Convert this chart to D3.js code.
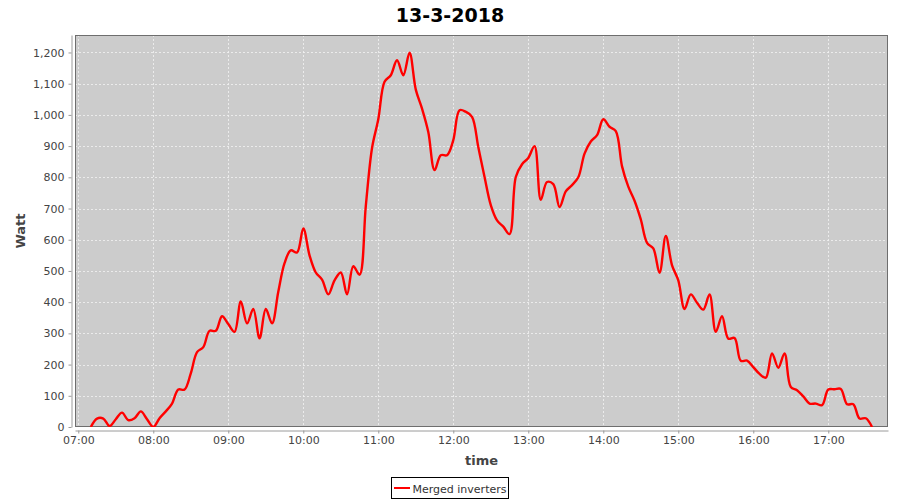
<!DOCTYPE html>
<html>
<head>
<meta charset="utf-8">
<script src="https://cdn.jsdelivr.net/npm/d3@7/dist/d3.min.js"></script>
<style>
  html, body { margin: 0; padding: 0; background: #ffffff; }
  svg { display: block; }
</style>
</head>
<body>
<svg id="chart" width="900" height="500"></svg>
<script>
// ---------------- DATA ----------------
const chartTitle = "13-3-2018";
const seriesName = "Merged inverters";
const xAxisLabel = "time";
const yAxisLabel = "Watt";

const times = [
  "07:10","07:15","07:20","07:25","07:30","07:35","07:40","07:45","07:50","07:55",
  "08:00","08:05","08:10","08:15","08:20","08:25","08:30","08:35","08:40","08:45",
  "08:50","08:55","09:00","09:05","09:10","09:15","09:20","09:25","09:30","09:35",
  "09:40","09:45","09:50","09:55","10:00","10:05","10:10","10:15","10:20","10:25",
  "10:30","10:35","10:40","10:45","10:50","10:55","11:00","11:05","11:10","11:15",
  "11:20","11:25","11:30","11:35","11:40","11:45","11:50","11:55","12:00","12:05",
  "12:10","12:15","12:20","12:25","12:30","12:35","12:40","12:45","12:50","12:55",
  "13:00","13:05","13:10","13:15","13:20","13:25","13:30","13:35","13:40","13:45",
  "13:50","13:55","14:00","14:05","14:10","14:15","14:20","14:25","14:30","14:35",
  "14:40","14:45","14:50","14:55","15:00","15:05","15:10","15:15","15:20","15:25",
  "15:30","15:35","15:40","15:45","15:50","15:55","16:00","16:05","16:10","16:15",
  "16:20","16:25","16:30","16:35","16:40","16:45","16:50","16:55","17:00","17:05",
  "17:10","17:15","17:20","17:25","17:30","17:35"
];

const watts = [
  0, 27, 27, 3, 25, 46, 22, 28, 50, 25,
  0, 28, 50, 75, 120, 120, 172, 240, 256, 308,
  308, 355, 330, 305, 402, 332, 378, 284, 378, 332,
  433, 525, 566, 559, 636, 550, 495, 472, 425, 470,
  495, 425, 515, 488, 708, 894, 986, 1106, 1127, 1175,
  1127, 1199, 1081, 1020, 945, 823, 871, 871, 919, 1015,
  1010, 994, 897, 801, 711, 662, 642, 618, 801, 842,
  862, 900, 728, 785, 778, 705, 755, 775, 800, 876,
  915, 935, 986, 962, 948, 835, 770, 725, 665, 590,
  572, 494, 612, 518, 470, 378, 425, 398, 376, 425,
  305, 355, 283, 285, 212, 213, 192, 170, 158, 236,
  190, 236, 128, 118, 98, 75, 75, 70, 120, 121,
  122, 73, 73, 27, 28, 0
];

const yTicks = [0, 100, 200, 300, 400, 500, 600, 700, 800, 900, 1000, 1100, 1200];
const xTickLabels = ["07:00","08:00","09:00","10:00","11:00","12:00","13:00","14:00","15:00","16:00","17:00"];
const xDomainLabels = ["06:57:22", "17:47:46"];
const yMax = 1256;

// ---------------- HELPERS ----------------
function toDate(s) {
  const p = s.split(":").map(Number);
  return new Date(2018, 2, 13, p[0], p[1], p[2] || 0);
}

const data = times.map((t, i) => ({ t: toDate(t), v: watts[i] }));

// ---------------- LAYOUT ----------------
const svg = d3.select("#chart");
const plot = { left: 75, right: 888, top: 35, bottom: 427 };

const x = d3.scaleTime()
  .domain(xDomainLabels.map(toDate))
  .range([plot.left, plot.right]);

const y = d3.scaleLinear()
  .domain([0, yMax])
  .range([plot.bottom, plot.top]);

const FONT = "'DejaVu Sans', sans-serif";

// Plot background
svg.append("rect")
  .attr("x", plot.left).attr("y", plot.top)
  .attr("width", plot.right - plot.left)
  .attr("height", plot.bottom - plot.top)
  .attr("fill", "#cccccc");

// Gridlines
const xTickDates = xTickLabels.map(toDate);
svg.append("g").selectAll("line")
  .data(xTickDates).join("line")
  .attr("x1", d => Math.round(x(d)) + 0.5).attr("x2", d => Math.round(x(d)) + 0.5)
  .attr("y1", plot.top).attr("y2", plot.bottom)
  .attr("stroke", "#f2f2f2").attr("stroke-width", 0.8)
  .attr("stroke-dasharray", "2,2");

svg.append("g").selectAll("line")
  .data(yTicks.filter(d => d > 0)).join("line")
  .attr("x1", plot.left).attr("x2", plot.right)
  .attr("y1", d => Math.round(y(d)) + 0.5).attr("y2", d => Math.round(y(d)) + 0.5)
  .attr("stroke", "#f2f2f2").attr("stroke-width", 0.8)
  .attr("stroke-dasharray", "2,2");

// Plot outline
svg.append("rect")
  .attr("x", plot.left + 0.5).attr("y", plot.top + 0.5)
  .attr("width", plot.right - plot.left - 1)
  .attr("height", plot.bottom - plot.top - 1)
  .attr("fill", "none")
  .attr("stroke", "#6e6e6e").attr("stroke-width", 1);

// Line
const clipId = "plotclip";
svg.append("clipPath").attr("id", clipId)
  .append("rect")
  .attr("x", plot.left).attr("y", plot.top)
  .attr("width", plot.right - plot.left)
  .attr("height", plot.bottom - plot.top);

const line = d3.line()
  .x(d => x(d.t))
  .y(d => y(d.v))
  .curve(d3.curveCatmullRom.alpha(0.5));

svg.append("path")
  .datum(data)
  .attr("clip-path", `url(#${clipId})`)
  .attr("d", line)
  .attr("fill", "none")
  .attr("stroke", "#ff0000")
  .attr("stroke-width", 2.4)
  .attr("stroke-linejoin", "round");

// Y axis (offset left of plot)
const yAxis = d3.axisLeft(y)
  .tickValues(yTicks)
  .tickFormat(d3.format(","))
  .tickSizeInner(3).tickSizeOuter(0).tickPadding(4);

const gy = svg.append("g")
  .attr("transform", `translate(${plot.left - 3.5},0)`)
  .call(yAxis);
gy.select(".domain").attr("stroke", "#9a9a9a");
gy.selectAll(".tick line").attr("stroke", "#9a9a9a");
gy.selectAll(".tick text")
  .attr("font-family", FONT).attr("font-size", 11).attr("fill", "#444444");

// X axis (offset below plot)
const xAxis = d3.axisBottom(x)
  .tickValues(xTickDates)
  .tickFormat(d3.timeFormat("%H:%M"))
  .tickSizeInner(3).tickSizeOuter(0).tickPadding(3);

const gx = svg.append("g")
  .attr("transform", `translate(0,${plot.bottom + 3.5})`)
  .call(xAxis);
gx.select(".domain").attr("stroke", "#9a9a9a");
gx.selectAll(".tick line").attr("stroke", "#9a9a9a");
gx.selectAll(".tick text")
  .attr("font-family", FONT).attr("font-size", 11).attr("fill", "#444444");

// Title
svg.append("text")
  .attr("x", 450).attr("y", 22)
  .attr("text-anchor", "middle")
  .attr("font-family", FONT).attr("font-size", 19).attr("font-weight", "bold")
  .attr("fill", "#000000")
  .text(chartTitle);

// Axis labels
svg.append("text")
  .attr("x", (plot.left + plot.right) / 2).attr("y", 465)
  .attr("text-anchor", "middle")
  .attr("font-family", FONT).attr("font-size", 13).attr("font-weight", "bold")
  .attr("fill", "#444444")
  .text(xAxisLabel);

svg.append("text")
  .attr("transform", `translate(25,${(plot.top + plot.bottom) / 2}) rotate(-90)`)
  .attr("text-anchor", "middle")
  .attr("font-family", FONT).attr("font-size", 13).attr("font-weight", "bold")
  .attr("fill", "#444444")
  .text(yAxisLabel);

// Legend
const lg = svg.append("g");
lg.append("rect")
  .attr("x", 391.5).attr("y", 477.5)
  .attr("width", 117).attr("height", 21)
  .attr("fill", "#ffffff").attr("stroke", "#000000").attr("stroke-width", 1);
lg.append("line")
  .attr("x1", 394).attr("x2", 410).attr("y1", 488).attr("y2", 488)
  .attr("stroke", "#ff0000").attr("stroke-width", 2);
lg.append("text")
  .attr("x", 412.5).attr("y", 492.5)
  .attr("font-family", FONT).attr("font-size", 11)
  .attr("fill", "#333333")
  .text(seriesName);
</script>
</body>
</html>
